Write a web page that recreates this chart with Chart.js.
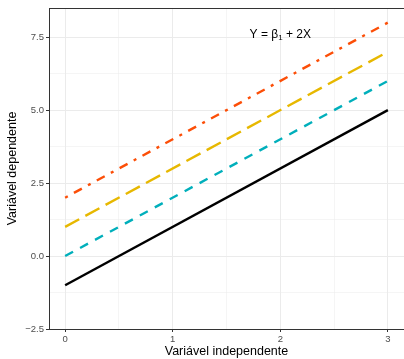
<!DOCTYPE html>
<html>
<head>
<meta charset="utf-8">
<script src="https://cdn.jsdelivr.net/npm/chart.js@4"></script>
<style>
  html, body { margin: 0; padding: 0; background: #fff; }
  #wrap { width: 404px; height: 359px; }
</style>
</head>
<body>
<div id="wrap"><canvas id="chart" width="404" height="359"></canvas></div>
<script>
// data
const xValues = [0, 3];
const lineBlack = [-1, 5];
const lineTeal = [0, 6];
const lineGold = [1, 7];
const lineOrange = [2, 8];
const xTicks = [0, 0.5, 1, 1.5, 2, 2.5, 3];
const yTicks = [-2.5, -1.25, 0, 1.25, 2.5, 3.75, 5, 6.25, 7.5];
const xTickLabels = {0: '0', 1: '1', 2: '2', 3: '3'};
const yTickLabels = {'-2.5': '\u22122.5', '0': '0.0', '2.5': '2.5', '5': '5.0', '7.5': '7.5'};

function pts(ys) {
    return xValues.map((x, i) => ({ x: x, y: ys[i] }));
}

const gridColor = ctx => '#EBEBEB';
const gridWidth = ctx => (isMajor(ctx.scale, ctx.tick) ? 1 : 0.5);
function isMajor(scale, tick) {
    if (!tick) return false;
    const labels = scale.axis === 'x' ? xTickLabels : yTickLabels;
    return labels[String(tick.value)] !== undefined;
}

// panel border + annotation
const extras = {
    id: 'extras',
    beforeDatasetsDraw(chart) {
        const { ctx, chartArea: a } = chart;
        ctx.save();
        ctx.strokeStyle = '#333333';
        ctx.lineWidth = 1;
        ctx.beginPath();
        ctx.moveTo(a.left + 0.5, a.bottom);
        ctx.lineTo(a.left + 0.5, a.top + 0.5);
        ctx.lineTo(a.right, a.top + 0.5);
        ctx.stroke();
        ctx.restore();
    },
    afterDatasetsDraw(chart) {
        const { ctx, scales } = chart;
        const cx = scales.x.getPixelForValue(2);
        const cy = scales.y.getPixelForValue(7.57);
        ctx.save();
        ctx.fillStyle = '#000';
        ctx.textBaseline = 'middle';
        const big = '12px "Liberation Sans", Arial, sans-serif';
        const small = '8px "Liberation Sans", Arial, sans-serif';
        const parts = [
            { t: 'Y = \u03B2', f: big, dy: 0 },
            { t: '1', f: small, dy: 3 },
            { t: ' + 2X', f: big, dy: 0 }
        ];
        let total = 0;
        parts.forEach(p => { ctx.font = p.f; p.w = ctx.measureText(p.t).width; total += p.w; });
        let x = cx - total / 2;
        parts.forEach(p => {
            ctx.font = p.f;
            ctx.fillText(p.t, x, cy + p.dy);
            x += p.w;
        });
        ctx.restore();
    }
};

const tickFont = { family: '"Liberation Sans", Arial, sans-serif', size: 9.5 };
const titleFont = { family: '"Liberation Sans", Arial, sans-serif', size: 12.5 };

new Chart(document.getElementById('chart').getContext('2d'), {
    type: 'line',
    data: {
        datasets: [
            { data: pts(lineBlack), borderColor: '#000000', borderWidth: 2.4, borderDash: [] },
            { data: pts(lineTeal), borderColor: '#00AFBB', borderWidth: 2.4, borderDash: [9, 8] },
            { data: pts(lineGold), borderColor: '#E7B800', borderWidth: 2.4, borderDash: [16, 7] },
            { data: pts(lineOrange), borderColor: '#FC4E07', borderWidth: 2.4, borderDash: [3, 7, 9, 7] }
        ]
    },
    options: {
        responsive: false,
        animation: false,
        elements: { point: { radius: 0 }, line: { tension: 0, borderCapStyle: 'butt' } },
        layout: { padding: { top: 8, right: 0, left: 0, bottom: 0 } },
        plugins: { legend: { display: false }, tooltip: { enabled: false } },
        scales: {
            x: {
                type: 'linear',
                min: -0.15,
                max: 3.15,
                afterBuildTicks: s => { s.ticks = xTicks.map(v => ({ value: v })); },
                afterFit: s => { s.height = 30; },
                grid: {
                    color: gridColor,
                    lineWidth: gridWidth,
                    tickLength: 3,
                    tickColor: ctx => (isMajor(ctx.scale, ctx.tick) ? '#333333' : 'rgba(0,0,0,0)'),
                    tickWidth: 1
                },
                border: { color: '#333333', width: 1 },
                ticks: {
                    autoSkip: false,
                    maxRotation: 0,
                    padding: 2,
                    color: '#4D4D4D',
                    font: tickFont,
                    callback: v => xTickLabels[String(v)] || ''
                },
                title: {
                    display: true,
                    text: 'Variável independente',
                    color: '#000000',
                    font: titleFont,
                    padding: { top: 0, bottom: 0 }
                }
            },
            y: {
                type: 'linear',
                min: -2.5,
                max: 8.5,
                afterBuildTicks: s => { s.ticks = yTicks.map(v => ({ value: v })); },
                afterFit: s => { s.width = 49; },
                grid: {
                    color: gridColor,
                    lineWidth: gridWidth,
                    tickLength: 3,
                    tickColor: ctx => (isMajor(ctx.scale, ctx.tick) ? '#333333' : 'rgba(0,0,0,0)'),
                    tickWidth: 1
                },
                border: { color: '#333333', width: 1 },
                ticks: {
                    autoSkip: false,
                    padding: 2,
                    color: '#4D4D4D',
                    font: tickFont,
                    callback: v => yTickLabels[String(v)] || ''
                },
                title: {
                    display: true,
                    text: 'Variável dependente',
                    color: '#000000',
                    font: titleFont,
                    padding: { top: 5, bottom: 0 }
                }
            }
        }
    },
    plugins: [extras]
});
</script>
</body>
</html>
